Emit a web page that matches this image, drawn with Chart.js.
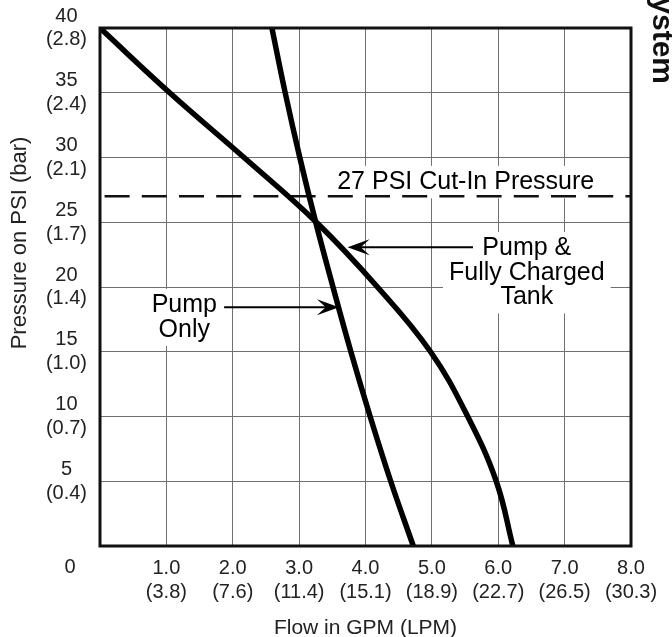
<!DOCTYPE html>
<html>
<head>
<meta charset="utf-8">
<script src="https://cdn.jsdelivr.net/npm/chart.js@4.4.0/dist/chart.umd.min.js"></script>
<style>
  html, body { margin: 0; padding: 0; background: #fff; }
  #wrap { width: 672px; height: 637px; }
</style>
</head>
<body>
<div id="wrap"><canvas id="pumpChart" width="672" height="637"></canvas></div>
<script>
// flow (GPM) vs pressure (PSI)
var tankFlow = [0, 1.05, 2.17, 3.26, 4.18, 4.98, 5.54, 5.97, 6.22];
var tankPsi = [40, 35, 30, 25, 20, 15, 10, 5, 0];
var pumpFlow = [2.59, 2.79, 3.01, 3.25, 3.51, 3.78, 4.07, 4.38, 4.72];
var pumpPsi = [40, 35, 30, 25, 20, 15, 10, 5, 0];
var cutInPsi = 27;

// axis tick labels
var gpmLabels = ['0', '1.0', '2.0', '3.0', '4.0', '5.0', '6.0', '7.0', '8.0'];
var lpmLabels = ['', '(3.8)', '(7.6)', '(11.4)', '(15.1)', '(18.9)', '(22.7)', '(26.5)', '(30.3)'];
var psiLabels = ['0', '5', '10', '15', '20', '25', '30', '35', '40'];
var barLabels = ['', '(0.4)', '(0.7)', '(1.0)', '(1.4)', '(1.7)', '(2.1)', '(2.4)', '(2.8)'];

function toPoints(xs, ys) {
    var pts = [];
    for (var i = 0; i < xs.length; i++) pts.push({ x: xs[i], y: ys[i] });
    return pts;
}

// callouts, placed in data units (flow, psi)
var notes = [
    { lines: ['27 PSI Cut-In Pressure'], x: 5.51, y: 28.1 },
    { lines: ['Pump &', 'Fully Charged', 'Tank'], x: 6.43, y: 23.0 },
    { lines: ['Pump', 'Only'], x: 1.27, y: 18.6 }
];
var arrows = [
    { from: [5.62, 23.07], to: [3.73, 23.07] },
    { from: [1.87, 18.43], to: [3.6, 18.43] }
];

var noteFont = '25px "Liberation Sans", Arial, sans-serif';
var noteLine = 24.5;

function drawArrowHead(ctx, x, y, dir) {
    // barbed head, dir = 1 points right, -1 points left
    var L = 22, w = 8;
    ctx.beginPath();
    ctx.moveTo(x, y);
    ctx.lineTo(x - dir * L, y - w);
    ctx.lineTo(x - dir * L * 0.6, y);
    ctx.lineTo(x - dir * L, y + w);
    ctx.closePath();
    ctx.fill();
}

var extras = {
    id: 'extras',
    beforeDatasetsDraw: function (chart) {
        var ctx = chart.ctx, sx = chart.scales.x, sy = chart.scales.y;
        ctx.save();
        ctx.font = noteFont;
        ctx.fillStyle = '#fff';
        notes.forEach(function (n) {
            var w = 0;
            n.lines.forEach(function (t) { w = Math.max(w, ctx.measureText(t).width); });
            var cx = sx.getPixelForValue(n.x), cy = sy.getPixelForValue(n.y);
            var h = n.lines.length * noteLine;
            ctx.fillRect(cx - w / 2 - 6, cy - noteLine / 2 - 4, w + 12, h + 8);
        });
        ctx.restore();
    },
    afterDatasetsDraw: function (chart) {
        var ctx = chart.ctx, sx = chart.scales.x, sy = chart.scales.y;
        var a = chart.chartArea;
        ctx.save();

        // frame
        ctx.strokeStyle = '#111';
        ctx.lineWidth = 3;
        ctx.strokeRect(a.left, a.top, a.right - a.left, a.bottom - a.top);

        // callout text
        ctx.fillStyle = '#000';
        ctx.font = noteFont;
        ctx.textAlign = 'center';
        ctx.textBaseline = 'middle';
        notes.forEach(function (n) {
            var cx = sx.getPixelForValue(n.x), cy = sy.getPixelForValue(n.y);
            n.lines.forEach(function (t, i) { ctx.fillText(t, cx, cy + i * noteLine); });
        });

        // arrows
        ctx.strokeStyle = '#000';
        ctx.lineWidth = 2;
        arrows.forEach(function (ar) {
            var x1 = sx.getPixelForValue(ar.from[0]), y1 = sy.getPixelForValue(ar.from[1]);
            var x2 = sx.getPixelForValue(ar.to[0]), y2 = sy.getPixelForValue(ar.to[1]);
            var dir = x2 > x1 ? 1 : -1;
            ctx.beginPath();
            ctx.moveTo(x1, y1);
            ctx.lineTo(x2 - dir * 12, y2);
            ctx.stroke();
            drawArrowHead(ctx, x2, y2, dir);
        });

        // corner zero, y title
        ctx.fillStyle = '#222';
        ctx.font = '20px "Liberation Sans", Arial, sans-serif';
        ctx.fillText(gpmLabels[0], a.left - 30, a.bottom + 21);

        ctx.save();
        ctx.translate(20, 243);
        ctx.rotate(-Math.PI / 2);
        ctx.font = '22px "Liberation Sans", Arial, sans-serif';
        ctx.fillText('Pressure on PSI (bar)', 0, 0);
        ctx.restore();

        // clipped side tab
        ctx.save();
        ctx.translate(653, 0);
        ctx.rotate(Math.PI / 2);
        ctx.fillStyle = '#111';
        ctx.font = 'bold 30px "Liberation Sans", Arial, sans-serif';
        ctx.textAlign = 'right';
        ctx.textBaseline = 'alphabetic';
        ctx.fillText('System', 84, 0);
        ctx.restore();

        ctx.restore();
    }
};

var tickFont = { family: '"Liberation Sans", Arial, sans-serif', size: 20, lineHeight: 1.18 };

var ctx = document.getElementById('pumpChart').getContext('2d');
var pumpChart = new Chart(ctx, {
    type: 'line',
    data: {
        datasets: [{
            label: 'Pump & Fully Charged Tank',
            data: toPoints(tankFlow, tankPsi),
            borderColor: '#000',
            borderWidth: 5.5,
            pointRadius: 0,
            tension: 0.4
        }, {
            label: 'Pump Only',
            data: toPoints(pumpFlow, pumpPsi),
            borderColor: '#000',
            borderWidth: 5.5,
            pointRadius: 0,
            tension: 0.4
        }, {
            label: '27 PSI Cut-In Pressure',
            data: toPoints([0, 8], [cutInPsi, cutInPsi]),
            borderColor: '#111',
            borderWidth: 2.5,
            borderDash: [25, 12.2],
            borderDashOffset: 32.6,
            pointRadius: 0
        }]
    },
    options: {
        responsive: false,
        animation: false,
        devicePixelRatio: 1,
        layout: { padding: { top: 28, right: 41, left: 0, bottom: 0 } },
        plugins: {
            legend: { display: false },
            tooltip: { enabled: false }
        },
        scales: {
            x: {
                type: 'linear',
                min: 0,
                max: 8,
                afterFit: function (scale) { scale.height = 91; },
                border: { display: false },
                grid: { color: '#707070', lineWidth: 1, drawTicks: false },
                ticks: {
                    stepSize: 1,
                    autoSkip: false,
                    maxRotation: 0,
                    padding: 11,
                    color: '#222',
                    font: tickFont,
                    callback: function (v) {
                        if (v === 0) return '';
                        return [gpmLabels[v], lpmLabels[v]];
                    }
                },
                title: {
                    display: true,
                    text: 'Flow in GPM (LPM)',
                    color: '#222',
                    font: { family: '"Liberation Sans", Arial, sans-serif', size: 21, lineHeight: 1.2 },
                    padding: { top: 0, bottom: -4 }
                }
            },
            y: {
                min: 0,
                max: 40,
                afterFit: function (scale) {
                    scale.width = 100;
                    scale.paddingTop = 0;
                    scale.paddingBottom = 0;
                },
                border: { display: false },
                grid: { color: '#707070', lineWidth: 1, drawTicks: false },
                ticks: {
                    stepSize: 5,
                    padding: 13,
                    crossAlign: 'center',
                    color: '#222',
                    font: tickFont,
                    callback: function (v) {
                        if (v === 0) return '';
                        return [psiLabels[v / 5], barLabels[v / 5]];
                    }
                }
            }
        }
    },
    plugins: [extras]
});
</script>
</body>
</html>
